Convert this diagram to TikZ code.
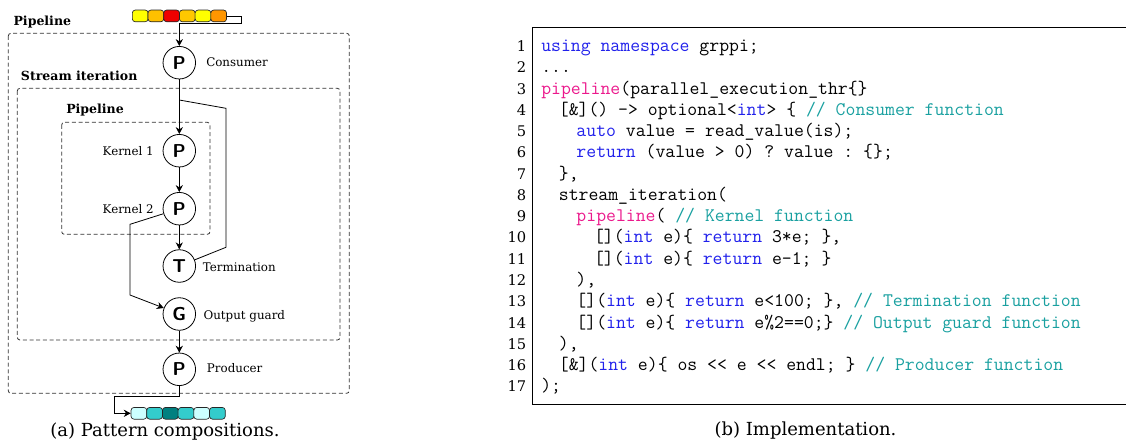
\documentclass[tikz,border=0pt]{standalone}
\usepackage{fontspec}
\setmainfont{DejaVu Serif}
\usetikzlibrary{arrows.meta}

\definecolor{kwblue}{RGB}{32,32,235}
\definecolor{plpink}{RGB}{235,25,140}
\definecolor{cmteal}{RGB}{25,160,160}
\definecolor{inA}{RGB}{255,255,0}
\definecolor{inB}{RGB}{255,192,0}
\definecolor{inC}{RGB}{240,0,0}
\definecolor{inD}{RGB}{255,200,0}
\definecolor{inE}{RGB}{255,150,0}
\definecolor{outA}{RGB}{204,255,255}
\definecolor{outB}{RGB}{51,204,204}
\definecolor{outC}{RGB}{0,128,128}

\newcommand\CodeKw[1]{\textcolor{kwblue}{#1}}
\newcommand\CodePl[1]{\textcolor{plpink}{#1}}
\newcommand\CodeCm[1]{\textcolor{cmteal}{#1}}

\begin{document}
\begin{tikzpicture}[x=0.75pt,y=-0.75pt,
  proc/.style={circle, draw, line width=0.6pt, minimum size=24.4pt, inner sep=0pt,
    font=\fontsize{14}{14}\selectfont\sffamily\bfseries},
  cell/.style={draw=black!85, line width=0.5pt, rounded corners=2.2pt,
    minimum width=11.8pt, minimum height=8.8pt, inner sep=0pt},
  link/.style={draw, line width=0.6pt},
  arrow/.style={link, -{Stealth[length=5.2pt,width=5.4pt]}},
  group/.style={draw=black!80, line width=0.6pt, dash pattern=on 3pt off 2pt, rounded corners=2pt},
  grouplabel/.style={anchor=base west, inner sep=0pt, font=\fontsize{9.4}{11}\selectfont\bfseries},
  label/.style={inner sep=0pt, font=\fontsize{8.9}{11}\selectfont},
  caption/.style={inner sep=0pt, font=\fontsize{13.5}{16}\selectfont},
  lnum/.style={anchor=base east, inner sep=0pt, font=\fontsize{11}{13}\selectfont},
  code/.style={anchor=base west, inner sep=0pt, font=\fontsize{14.4}{16}\selectfont\ttfamily\frenchspacing}
]
\useasboundingbox (0,0) rectangle (1126,444);

% ---------- pattern composition ----------
% nested groups
\draw[group] (8.3,33.3) rectangle (349.3,393.3);
\draw[group] (17.3,88.3) rectangle (340,340);
\draw[group] (61.7,122.3) rectangle (210,234.3);
\node[grouplabel] (lpipe) at (13.3,25) {Pipeline};
\node[grouplabel] (lstream) at (20.7,80) {Stream iteration};
\node[grouplabel] (lpipein) at (66,113.3) {Pipeline};

% input stream
\foreach \c [count=\i from 0] in {inA,inB,inC,inD,inA,inE}
  \node[cell, fill=\c] (in\i) at ({140.2+\i*15.7},15.9) {};
% output stream
\foreach \c [count=\i from 0] in {outA,outB,outC,outB,outA,outB}
  \node[cell, fill=\c] (out\i) at ({138.9+\i*15.7},413.3) {};

% stages
\node[proc] (cons) at (179.3,62.7) {P};
\node[proc] (k1)   at (179.3,150.7) {P};
\node[proc] (k2)   at (179.3,208.7) {P};
\node[proc] (term) at (179.3,266) {T};
\node[proc] (guard) at (179.3,314) {G};
\node[proc] (prod) at (179.3,369.3) {P};

\node[label, anchor=base west] (lcons) at (206,66.7) {Consumer};
\node[label, anchor=base east] (lk1) at (154,155.7) {Kernel 1};
\node[label, anchor=base east] (lk2) at (154,213.3) {Kernel 2};
\node[label, anchor=base west] (lterm) at (202.7,271.7) {Termination};
\node[label, anchor=base west] (lguard) at (203.3,319) {Output guard};
\node[label, anchor=base west] (lprod) at (206.7,372.3) {Producer};

% routing points
\coordinate (inR) at (241.7,15.9);
\coordinate (inD) at (241.7,23.3);
\coordinate (inL) at (179.3,23.3);
\coordinate (join) at (179.3,100);
\coordinate (loopTop) at (226,108.3);
\coordinate (loopBot) at (226,247.3);
\coordinate (skipTop) at (130,224.3);
\coordinate (skipBot) at (130,295);
\coordinate (outD) at (179.3,396.7);
\coordinate (outL) at (114.3,396.7);
\coordinate (outB2) at (114.3,413.3);

% connectors
\draw[arrow] (in5.east) -- (inR) -- (inD) -- (inL) -- (cons);
\draw[arrow] (cons) -- (k1);
\draw[arrow] (k1) -- (k2);
\draw[arrow] (k2) -- (term);
\draw[link] (term) -- (loopBot) -- (loopTop) -- (join);
\draw[arrow] (k2) -- (skipTop) -- (skipBot) -- (guard);
\draw[arrow] (guard) -- (prod);
\draw[arrow] (prod) -- (outD) -- (outL) -- (outB2) -- (out0.west);

\node[caption] (capa) at (165,431.5) {(a) Pattern compositions.};

% ---------- implementation ----------
\draw[line width=0.75pt] (1126,27) -- (532.5,27) -- (532.5,404.7) -- (1126,404.7);
\foreach \i in {1,...,17}
  \node[lnum] (n\i) at (526.5,{51.5+(\i-1)*21.27}) {\i};

\node[code] (c1)  at (541.0,51.50)  {\CodeKw{using} \CodeKw{namespace} grppi;};
\node[code] (c2)  at (541.0,72.77)  {...};
\node[code] (c3)  at (541.0,94.04)  {\CodePl{pipeline}(parallel\_execution\_thr\{\}};
\node[code] (c4)  at (558.6,115.31) {[\&]() -> optional<\CodeKw{int}> \{ \CodeCm{// Consumer function}};
\node[code] (c5)  at (576.2,136.58) {\CodeKw{auto} value = read\_value(is);};
\node[code] (c6)  at (576.2,157.85) {\CodeKw{return} (value > 0) ? value : \{\};};
\node[code] (c7)  at (558.6,179.12) {\},};
\node[code] (c8)  at (558.6,200.39) {stream\_iteration(};
\node[code] (c9)  at (576.2,221.66) {\CodePl{pipeline}( \CodeCm{// Kernel function}};
\node[code] (c10) at (593.8,242.93) {[](\CodeKw{int} e)\{ \CodeKw{return} 3*e; \},};
\node[code] (c11) at (593.8,264.20) {[](\CodeKw{int} e)\{ \CodeKw{return} e-1; \}};
\node[code] (c12) at (576.2,285.47) {),};
\node[code] (c13) at (576.2,306.74) {[](\CodeKw{int} e)\{ \CodeKw{return} e<100; \}, \CodeCm{// Termination function}};
\node[code] (c14) at (576.2,328.01) {[](\CodeKw{int} e)\{ \CodeKw{return} e\%2==0;\} \CodeCm{// Output guard function}};
\node[code] (c15) at (558.6,349.28) {),};
\node[code] (c16) at (558.6,370.55) {[\&](\CodeKw{int} e)\{ os <{}< e <{}< endl; \} \CodeCm{// Producer function}};
\node[code] (c17) at (541.0,391.82) {);};

\node[caption] (capb) at (805.5,431) {(b) Implementation.};
\end{tikzpicture}
\end{document}
